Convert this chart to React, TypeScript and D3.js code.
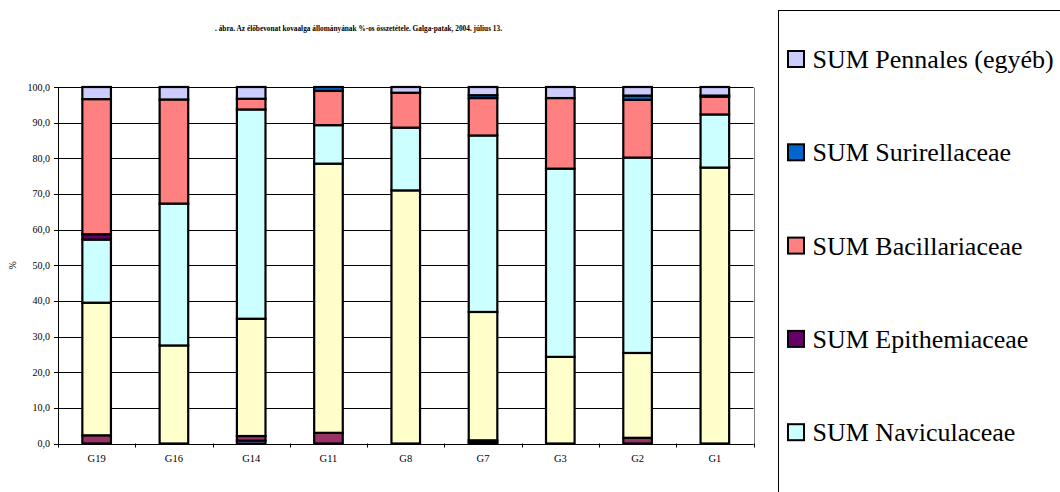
import React from "react";
import * as d3 from "d3";

// Sampling sites along the stream
const sites = ["G19", "G16", "G14", "G11", "G8", "G7", "G3", "G2", "G1"];

// Percentage share of each diatom group per site (stacked bottom to top)
const centrales = [0, 0, 0.8, 0, 0, 0.3, 0, 0, 0];
const achnanthaceae = [2.3, 0, 1.3, 3.0, 0, 0.6, 0, 1.6, 0];
const fragilariaceae = [37.2, 27.5, 32.9, 75.5, 71.0, 36.0, 24.3, 23.8, 77.4];
const naviculaceae = [17.7, 39.8, 58.7, 10.8, 17.6, 49.5, 52.8, 54.8, 14.9];
const epithemiaceae = [1.5, 0, 0, 0, 0, 0, 0, 0, 0];
const bacillariaceae = [37.9, 29.2, 3.0, 9.6, 9.8, 10.5, 19.8, 16.2, 5.0];
const surirellaceae = [0, 0, 0, 1.1, 0, 0.8, 0, 1.2, 0.3];
const pennalesEgyeb = [3.4, 3.5, 3.3, 0, 1.6, 2.3, 3.1, 2.4, 2.4];

const yTicks = [0, 10, 20, 30, 40, 50, 60, 70, 80, 90, 100];

const title =
  ".  ábra. Az élőbevonat kovaalga állományának %-os összetétele. Galga-patak, 2004. július 13.";

const seriesDefs = [
  { key: "SUM Centrales", values: centrales, color: "#9999FF" },
  { key: "SUM Achnanthaceae", values: achnanthaceae, color: "#993366" },
  { key: "SUM Fragilariaceae", values: fragilariaceae, color: "#FFFFCC" },
  { key: "SUM Naviculaceae", values: naviculaceae, color: "#CCFFFF" },
  { key: "SUM Epithemiaceae", values: epithemiaceae, color: "#660066" },
  { key: "SUM Bacillariaceae", values: bacillariaceae, color: "#FF8080" },
  { key: "SUM Surirellaceae", values: surirellaceae, color: "#0066CC" },
  { key: "SUM Pennales (egyéb)", values: pennalesEgyeb, color: "#CCCCFF" },
];

const W = 1060;
const H = 492;
const plot = { left: 58, right: 753.5, top: 87, bottom: 443.5 };
const serif = "Liberation Serif, Tinos, DejaVu Serif, serif";

export default function App() {
  const rows = sites.map((s, i) => {
    const r: Record<string, number | string> = { site: s };
    seriesDefs.forEach((d) => (r[d.key] = d.values[i]));
    return r;
  });

  const stacked = d3.stack<any>().keys(seriesDefs.map((d) => d.key))(rows);

  const x = d3
    .scaleBand<string>()
    .domain(sites)
    .range([plot.left, plot.right])
    .paddingInner(0.63)
    .paddingOuter(0.315);

  const y = d3.scaleLinear().domain([0, 100]).range([plot.bottom, plot.top]);

  const step = x.step();
  const fmt = (v: number) => v.toFixed(1).replace(".", ",");

  // legend lists series from the top of the stack downward; the box
  // only has room for the upper five entries
  const legendItems = [...seriesDefs].reverse().slice(0, 5);

  return (
    <svg
      width={W}
      height={H}
      style={{ position: "absolute", left: 0, top: 0, background: "#fff", fontFamily: serif }}
    >
      <rect x={0} y={0} width={W} height={H} fill="#fff" />

      <text
        x={215}
        y={31}
        fontSize={9}
        fontWeight="bold"
        textLength={287}
        lengthAdjust="spacingAndGlyphs"
        fill="#000"
      >
        {title}
      </text>

      {/* horizontal gridlines */}
      {yTicks.map((t) => (
        <line
          key={"g" + t}
          x1={plot.left}
          x2={plot.right}
          y1={Math.round(y(t)) + 0.5}
          y2={Math.round(y(t)) + 0.5}
          stroke="#000"
          strokeWidth={1}
        />
      ))}
      {/* plot area right border */}
      <line
        x1={Math.round(plot.right) + 0.5}
        x2={Math.round(plot.right) + 0.5}
        y1={Math.round(plot.top) + 0.5}
        y2={Math.round(plot.bottom) + 0.5}
        stroke="#808080"
      />

      {/* stacked bars */}
      {stacked.map((layer, li) => (
        <g key={layer.key}>
          {layer.map((seg, i) => {
            const v = seg[1] - seg[0];
            if (v <= 0) return null;
            return (
              <rect
                key={i}
                x={x(sites[i])!}
                width={x.bandwidth()}
                y={y(seg[1])}
                height={y(seg[0]) - y(seg[1])}
                fill={seriesDefs[li].color}
                stroke="#000"
                strokeWidth={2.2}
              />
            );
          })}
        </g>
      ))}

      {/* y axis */}
      <line
        x1={plot.left + 0.5}
        x2={plot.left + 0.5}
        y1={plot.top}
        y2={plot.bottom + 1}
        stroke="#000"
      />
      {yTicks.map((t) => (
        <g key={"t" + t}>
          <line
            x1={plot.left - 4}
            x2={plot.left}
            y1={Math.round(y(t)) + 0.5}
            y2={Math.round(y(t)) + 0.5}
            stroke="#000"
          />
          <text
            x={50}
            y={y(t) + 3.5}
            textAnchor="end"
            fontSize={10}
            fill="#000"
          >
            {fmt(t)}
          </text>
        </g>
      ))}
      <text
        transform={`translate(16, ${(plot.top + plot.bottom) / 2}) rotate(-90)`}
        textAnchor="middle"
        fontSize={10}
        fill="#000"
      >
        %
      </text>

      {/* x axis */}
      <line
        x1={plot.left}
        x2={plot.right}
        y1={Math.round(plot.bottom) + 0.5}
        y2={Math.round(plot.bottom) + 0.5}
        stroke="#000"
      />
      {d3.range(sites.length + 1).map((i) => {
        const xx = Math.round(plot.left + i * step) + 0.5;
        return (
          <line
            key={"xt" + i}
            x1={xx}
            x2={xx}
            y1={plot.bottom}
            y2={plot.bottom + 4}
            stroke="#000"
          />
        );
      })}
      {sites.map((s) => (
        <text
          key={"xl" + s}
          x={x(s)! + x.bandwidth() / 2}
          y={462}
          textAnchor="middle"
          fontSize={10.5}
          fill="#000"
        >
          {s}
        </text>
      ))}

      {/* legend */}
      <rect
        x={778.5}
        y={10.5}
        width={400}
        height={800}
        fill="#fff"
        stroke="#000"
        strokeWidth={1}
      />
      {legendItems.map((d, i) => {
        const top = 50 + i * 93.3;
        return (
          <g key={"lg" + d.key}>
            <rect
              x={788}
              y={top + 1}
              width={16}
              height={16}
              fill={d.color}
              stroke="#000"
              strokeWidth={2}
            />
            <text x={812.5} y={top + 18} fontSize={26} fill="#000">
              {d.key}
            </text>
          </g>
        );
      })}
    </svg>
  );
}
